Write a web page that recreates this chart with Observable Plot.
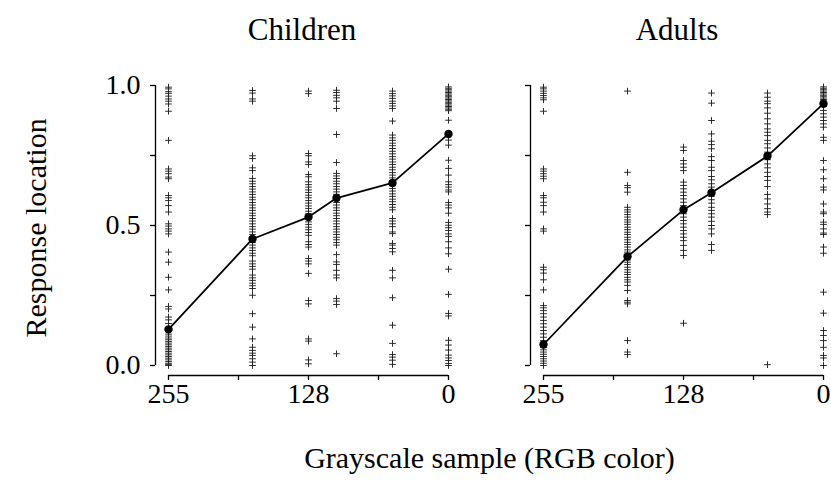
<!DOCTYPE html>
<html><head><meta charset="utf-8">
<script src="https://cdn.jsdelivr.net/npm/d3@7"></script>
<script src="https://cdn.jsdelivr.net/npm/@observablehq/plot@0.6"></script>
<style>body{margin:0;background:#fff} #chart{width:831px;height:497px}</style>
</head><body><div id="chart"></div>
<script>
// ---- data ----
const groups = ["Children", "Adults"];
const levels = [255, 178.5, 127.5, 102, 51, 0];
const xTicks = [255, 191.25, 127.5, 63.75, 0];
const xTickLabels = ["255", "", "128", "", "0"];
const yTicks = [0, 0.25, 0.5, 0.75, 1];
const yTickLabels = ["0.0", "", "0.5", "", "1.0"];
const xTitle = "Grayscale sample (RGB color)";
const yTitle = "Response location";

const childrenMeans = [0.129, 0.452, 0.530, 0.598, 0.652, 0.827];
const adultsMeans = [0.075, 0.389, 0.556, 0.617, 0.748, 0.935];

const children255 = [0.994, 0.988, 0.978, 0.972, 0.962, 0.952, 0.944, 0.934, 0.908, 0.804, 0.702, 0.694, 0.685, 0.673, 0.667, 0.607, 0.599, 0.589, 0.571, 0.548, 0.506, 0.498, 0.488, 0.480, 0.470, 0.405, 0.369, 0.315, 0.270, 0.211, 0.202, 0.173, 0.163, 0.150, 0.112, 0.105, 0.098, 0.092, 0.086, 0.080, 0.074, 0.068, 0.062, 0.056, 0.050, 0.044, 0.038, 0.032, 0.026, 0.020, 0.014, 0.008, 0.004, 0.0];
const children178 = [0.982, 0.973, 0.952, 0.944, 0.749, 0.739, 0.706, 0.696, 0.668, 0.658, 0.649, 0.639, 0.630, 0.620, 0.611, 0.601, 0.592, 0.582, 0.573, 0.563, 0.554, 0.544, 0.535, 0.525, 0.516, 0.506, 0.496, 0.487, 0.477, 0.468, 0.458, 0.449, 0.439, 0.430, 0.420, 0.411, 0.401, 0.392, 0.373, 0.363, 0.354, 0.344, 0.323, 0.313, 0.304, 0.294, 0.285, 0.275, 0.251, 0.185, 0.137, 0.095, 0.065, 0.054, 0.044, 0.036, 0.024, 0.012, 0.0];
const children127 = [0.980, 0.971, 0.757, 0.749, 0.727, 0.718, 0.682, 0.674, 0.656, 0.646, 0.637, 0.627, 0.618, 0.608, 0.599, 0.589, 0.580, 0.570, 0.561, 0.551, 0.542, 0.532, 0.523, 0.513, 0.504, 0.494, 0.485, 0.475, 0.465, 0.442, 0.432, 0.423, 0.382, 0.373, 0.363, 0.329, 0.232, 0.220, 0.095, 0.087, 0.020, 0.006];
const children102 = [0.983, 0.975, 0.965, 0.956, 0.944, 0.918, 0.825, 0.725, 0.686, 0.677, 0.668, 0.658, 0.649, 0.639, 0.630, 0.620, 0.611, 0.601, 0.592, 0.582, 0.573, 0.563, 0.554, 0.544, 0.535, 0.525, 0.516, 0.506, 0.496, 0.487, 0.477, 0.468, 0.458, 0.449, 0.439, 0.430, 0.396, 0.370, 0.361, 0.340, 0.323, 0.313, 0.239, 0.230, 0.218, 0.042];
const children51 = [0.980, 0.971, 0.963, 0.954, 0.944, 0.936, 0.927, 0.918, 0.873, 0.823, 0.813, 0.804, 0.794, 0.785, 0.775, 0.765, 0.756, 0.746, 0.737, 0.727, 0.718, 0.708, 0.699, 0.689, 0.680, 0.670, 0.661, 0.651, 0.642, 0.632, 0.623, 0.613, 0.604, 0.594, 0.585, 0.575, 0.565, 0.556, 0.525, 0.516, 0.506, 0.496, 0.477, 0.471, 0.436, 0.430, 0.418, 0.406, 0.340, 0.313, 0.242, 0.144, 0.079, 0.039, 0.030, 0.019, 0.004];
const children0 = [0.995, 0.990, 0.985, 0.980, 0.975, 0.970, 0.965, 0.960, 0.955, 0.950, 0.945, 0.940, 0.935, 0.930, 0.925, 0.920, 0.915, 0.910, 0.876, 0.805, 0.787, 0.733, 0.704, 0.680, 0.656, 0.646, 0.637, 0.627, 0.620, 0.582, 0.573, 0.563, 0.544, 0.511, 0.501, 0.492, 0.482, 0.470, 0.461, 0.442, 0.420, 0.399, 0.344, 0.254, 0.186, 0.177, 0.090, 0.073, 0.055, 0.037, 0.027, 0.018, 0.007, 0.0];

const adults255 = [0.994, 0.988, 0.980, 0.972, 0.964, 0.956, 0.949, 0.908, 0.702, 0.694, 0.685, 0.676, 0.667, 0.607, 0.599, 0.583, 0.571, 0.548, 0.488, 0.480, 0.351, 0.342, 0.330, 0.306, 0.270, 0.214, 0.206, 0.196, 0.185, 0.173, 0.161, 0.149, 0.137, 0.125, 0.113, 0.101, 0.089, 0.080, 0.072, 0.064, 0.056, 0.048, 0.040, 0.032, 0.024, 0.016, 0.008, 0.0];
const adults178 = [0.980, 0.690, 0.643, 0.635, 0.619, 0.565, 0.556, 0.548, 0.539, 0.530, 0.520, 0.512, 0.504, 0.494, 0.485, 0.476, 0.468, 0.458, 0.449, 0.440, 0.432, 0.423, 0.413, 0.405, 0.396, 0.387, 0.377, 0.369, 0.361, 0.351, 0.342, 0.333, 0.325, 0.315, 0.306, 0.298, 0.286, 0.268, 0.232, 0.226, 0.220, 0.089, 0.048, 0.039];
const adults127 = [0.780, 0.768, 0.732, 0.720, 0.708, 0.696, 0.655, 0.643, 0.631, 0.619, 0.607, 0.595, 0.583, 0.571, 0.556, 0.542, 0.530, 0.518, 0.506, 0.494, 0.482, 0.470, 0.458, 0.446, 0.429, 0.411, 0.393, 0.151];
const adults102 = [0.973, 0.937, 0.875, 0.827, 0.801, 0.789, 0.774, 0.746, 0.732, 0.708, 0.696, 0.675, 0.663, 0.649, 0.637, 0.625, 0.615, 0.604, 0.592, 0.580, 0.565, 0.554, 0.542, 0.530, 0.515, 0.500, 0.488, 0.470, 0.432, 0.411];
const adults51 = [0.973, 0.958, 0.944, 0.935, 0.920, 0.901, 0.881, 0.863, 0.845, 0.833, 0.821, 0.804, 0.792, 0.777, 0.762, 0.748, 0.735, 0.720, 0.706, 0.690, 0.675, 0.661, 0.639, 0.611, 0.595, 0.577, 0.560, 0.548, 0.539, 0.003];
const adults0 = [0.995, 0.990, 0.985, 0.980, 0.975, 0.970, 0.965, 0.960, 0.955, 0.950, 0.945, 0.940, 0.930, 0.925, 0.911, 0.899, 0.887, 0.875, 0.863, 0.851, 0.815, 0.804, 0.732, 0.699, 0.667, 0.637, 0.627, 0.577, 0.548, 0.542, 0.512, 0.504, 0.488, 0.473, 0.468, 0.423, 0.401, 0.262, 0.187, 0.125, 0.107, 0.089, 0.065, 0.036, 0.027, 0.0];

const childrenColumns = [children255, children178, children127, children102, children51, children0];
const adultsColumns = [adults255, adults178, adults127, adults102, adults51, adults0];

// ---- tables built from the arrays ----
const points = [];
[[groups[0], childrenColumns], [groups[1], adultsColumns]].forEach(([g, cols]) => {
  cols.forEach((vals, i) => vals.forEach(v => points.push({group: g, level: levels[i], value: v})));
});
const means = [];
[[groups[0], childrenMeans], [groups[1], adultsMeans]].forEach(([g, m]) => {
  m.forEach((v, i) => means.push({group: g, level: levels[i], value: v}));
});

// ---- chart ----
const FONT = "'Liberation Serif', 'Times New Roman', serif";
const X_INSET = 13, Y_INSET = 10;

const chart = Plot.plot({
  width: 831,
  height: 497,
  marginLeft: 154,
  marginRight: 8,
  marginTop: 85,
  marginBottom: 122,
  style: {fontFamily: FONT, fontSize: "28px", color: "#000", background: "#fff"},
  fx: {domain: groups, paddingInner: 0.22, paddingOuter: 0, label: null},
  x: {domain: [xTicks[0], xTicks[xTicks.length - 1]], insetLeft: X_INSET, insetRight: 0},
  y: {domain: [yTicks[0], yTicks[yTicks.length - 1]], insetBottom: Y_INSET, insetTop: 0},
  marks: [
    // axis lines (R style, spanning first to last tick)
    Plot.ruleY([yTicks[0]], {x1: () => xTicks[0], x2: () => xTicks[xTicks.length - 1], dy: Y_INSET, stroke: "#000", strokeWidth: 1.3}),
    Plot.ruleX([xTicks[0]], {y1: () => yTicks[0], y2: () => yTicks[yTicks.length - 1], dx: -X_INSET, stroke: "#000", strokeWidth: 1.3}),
    // y ticks on every panel
    Plot.axisY(yTicks, {tickSize: 5, fill: "none", label: null, facetAnchor: null, strokeWidth: 1.3}),
    // y tick labels on the left panel only
    Plot.axisY(yTicks, {tickSize: 0, tickPadding: 15, tickFormat: d => yTickLabels[yTicks.indexOf(d)], label: null, fontSize: 28}),
    // x ticks and labels
    Plot.axisX(xTicks, {tickSize: 5, tickPadding: 3, tickFormat: d => xTickLabels[xTicks.indexOf(d)], label: null, fontSize: 28, strokeWidth: 1.3}),
    // panel titles
    Plot.axisFx({anchor: "top", tickSize: 0, tickPadding: 46, fontSize: 31, label: null}),
    // individual responses
    Plot.dot(points, {fx: "group", x: "level", y: "value", symbol: "plus", r: 2.3, stroke: "#222", strokeWidth: 0.95}),
    // mean line and points
    Plot.line(means, {fx: "group", x: "level", y: "value", stroke: "#000", strokeWidth: 1.8}),
    Plot.dot(means, {fx: "group", x: "level", y: "value", r: 4.2, fill: "#000"}),
    // axis titles
    Plot.text([xTitle], {text: d => d, frameAnchor: "bottom", facet: "super", dy: 92, fontSize: 30}),
    Plot.text([yTitle], {text: d => d, frameAnchor: "left", facet: "super", rotate: -90, dx: -119, dy: 107, fontSize: 30})
  ]
});
document.getElementById("chart").appendChild(chart);
</script>
</body></html>
